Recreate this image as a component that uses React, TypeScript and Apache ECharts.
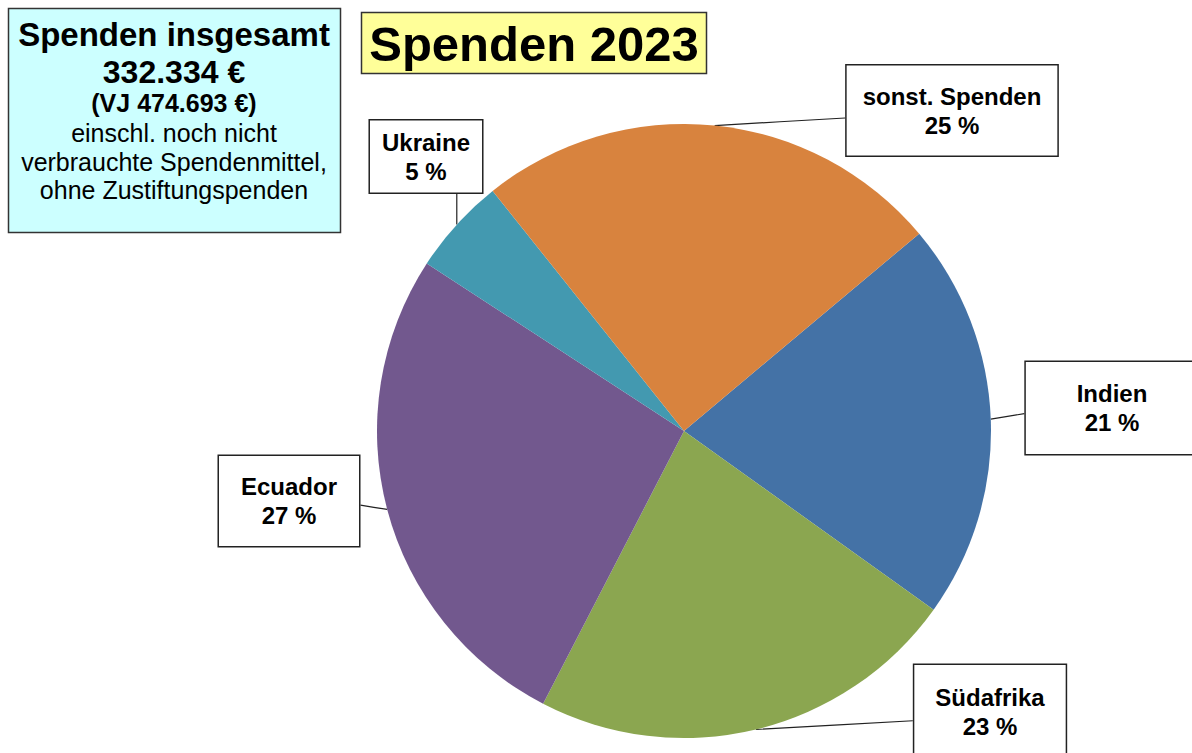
import React, { useEffect, useRef } from "react";
import * as echarts from "echarts";

// ---- data ----
const categories = ["Indien", "Südafrika", "Ecuador", "Ukraine", "sonst. Spenden"];
const shares = [21.0, 22.7, 26.6, 5.1, 24.6];
const sliceColors = ["#4472A6", "#8BA650", "#72588E", "#4399B0", "#D8833E"];

const chartTitle = "Spenden 2023";
const infoLines = [
  "Spenden insgesamt",
  "332.334 €",
  "(VJ 474.693 €)",
  "einschl. noch nicht",
  "verbrauchte Spendenmittel,",
  "ohne Zustiftungspenden",
];

// ---- layout (positions / styles only) ----
const labelCenters: [number, number][] = [
  [1112, 408],
  [990, 712],
  [289, 501],
  [426, 156.5],
  [952, 110.5],
];
const labelPaddings: number[][] = [
  [17, 47, 17, 47],
  [18, 21, 18, 21],
  [16, 22, 16, 22],
  [7, 12, 7, 12],
  [16, 16, 16, 16],
];
const infoStyles = [
  { y: 34, size: 33, weight: "bold" },
  { y: 72, size: 32, weight: "bold" },
  { y: 103, size: 25, weight: "bold" },
  { y: 133, size: 25, weight: "normal" },
  { y: 162, size: 25, weight: "normal" },
  { y: 190, size: 25, weight: "normal" },
];

const FONT = "'Liberation Sans', Arial, sans-serif";

export default function App() {
  const ref = useRef<HTMLDivElement>(null);

  useEffect(() => {
    if (!ref.current) return;
    const chart = echarts.init(ref.current, null, { renderer: "svg" });

    const data = categories.map((name, i) => ({
      name,
      value: shares[i],
      itemStyle: { color: sliceColors[i] },
      label: { padding: labelPaddings[i] },
    }));

    const graphics: any[] = [
      {
        type: "rect",
        shape: { x: 8.5, y: 8.5, width: 332, height: 224 },
        style: { fill: "#CCFFFF", stroke: "#333333", lineWidth: 1.5 },
        z: 10,
      },
      ...infoLines.map((t, i) => ({
        type: "text",
        z: 11,
        style: {
          text: t,
          x: 174,
          y: infoStyles[i].y,
          align: "center",
          verticalAlign: "middle",
          fill: "#000000",
          font: `${infoStyles[i].weight} ${infoStyles[i].size}px ${FONT}`,
        },
      })),
      {
        type: "rect",
        shape: { x: 361.5, y: 12.5, width: 345, height: 61 },
        style: { fill: "#FFFF99", stroke: "#333333", lineWidth: 1.5 },
        z: 10,
      },
      {
        type: "text",
        z: 11,
        style: {
          text: chartTitle,
          x: 534,
          y: 44,
          align: "center",
          verticalAlign: "middle",
          fill: "#000000",
          font: `bold 49px ${FONT}`,
        },
      },
    ];

    chart.setOption({
      animation: false,
      backgroundColor: "#ffffff",
      graphic: graphics,
      series: [
        {
          type: "pie",
          center: [684, 431],
          radius: 307,
          startAngle: 40,
          clockwise: true,
          silent: true,
          data,
          label: {
            show: true,
            position: "outside",
            formatter: (p: any) => `${p.name}\n${Math.round(p.percent)} %`,
            fontFamily: FONT,
            fontSize: 24,
            fontWeight: "bold",
            color: "#000000",
            lineHeight: 29,
            align: "center",
            backgroundColor: "#ffffff",
            borderColor: "#222222",
            borderWidth: 1.5,
          },
          labelLine: {
            show: true,
            length: 10,
            length2: 10,
            lineStyle: { color: "#222222", width: 1.2 },
          },
          labelLayout: (params: any) => {
            const idx = params.dataIndex;
            const [cx, cy] = labelCenters[idx];
            const w = params.labelRect.width;
            const h = params.labelRect.height;
            const pts = params.labelLinePoints;
            const res: any = {
              x: cx,
              y: cy,
              align: "center",
              verticalAlign: "middle",
            };
            if (pts && pts.length) {
              const start = pts[0];
              const left = cx - w / 2;
              const right = cx + w / 2;
              const top = cy - h / 2;
              const bottom = cy + h / 2;
              let ex = Math.min(Math.max(start[0], left), right);
              let ey = Math.min(Math.max(start[1], top), bottom);
              if (ex === left || ex === right) {
                ey = (ey + cy) / 2;
              }
              res.labelLinePoints = [
                [start[0], start[1]],
                [(start[0] + ex) / 2, (start[1] + ey) / 2],
                [ex, ey],
              ];
            }
            return res;
          },
        },
      ],
    });

    return () => chart.dispose();
  }, []);

  return (
    <div
      ref={ref}
      style={{ position: "absolute", left: 0, top: 0, width: 1192, height: 753 }}
    />
  );
}
